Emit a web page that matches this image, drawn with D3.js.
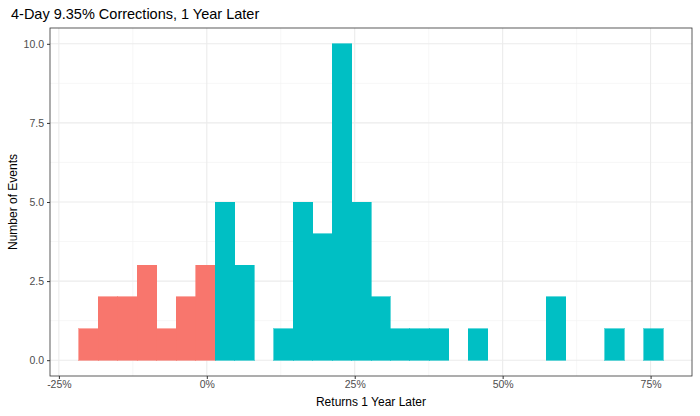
<!DOCTYPE html>
<html>
<head>
<meta charset="utf-8">
<script src="https://d3js.org/d3.v7.min.js"></script>
<style>
  body { margin: 0; background: #fff; }
  text { font-family: "Liberation Sans", Arial, sans-serif; }
</style>
</head>
<body>
<div id="chart"></div>
<script>
// histogram bins (left edge, % return) and counts
var binStarts = [-21.6, -18.31, -15.02, -11.73, -8.44, -5.15, -1.86, 1.43, 4.72, 8.01,
                 11.3, 14.59, 17.88, 21.17, 24.46, 27.75, 31.04, 34.33, 37.62, 40.91,
                 44.2, 47.49, 50.78, 54.07, 57.36, 60.65, 63.94, 67.23, 70.52, 73.81];
var binWidth = 3.29;
var counts = [1, 2, 2, 3, 1, 2, 3, 5, 3, 0,
              1, 5, 4, 10, 5, 2, 1, 1, 1, 0,
              1, 0, 0, 0, 2, 0, 0, 1, 0, 1];
var groups = ["neg", "neg", "neg", "neg", "neg", "neg", "neg", "pos", "pos", "pos",
              "pos", "pos", "pos", "pos", "pos", "pos", "pos", "pos", "pos", "pos",
              "pos", "pos", "pos", "pos", "pos", "pos", "pos", "pos", "pos", "pos"];
var xTicks = [-25, 0, 25, 50, 75];
var yTicks = [0, 2.5, 5, 7.5, 10];

var width = 700, height = 416;
var margin = {top: 28, right: 8, bottom: 40, left: 50};

var svg = d3.select("#chart")
  .append("svg")
  .attr("width", width)
  .attr("height", height);

var x = d3.scaleLinear()
  .domain([-26.5, 82])
  .range([margin.left, width - margin.right]);

var y = d3.scaleLinear()
  .domain([-0.5, 10.5])
  .range([height - margin.bottom, margin.top]);

var color = d3.scaleOrdinal()
  .domain(["neg", "pos"])
  .range(["#F8766D", "#00BFC4"]);

// minor grid
var xMinor = [-12.5, 12.5, 37.5, 62.5];
var yMinor = [1.25, 3.75, 6.25, 8.75];
svg.append("g").selectAll("line.xm")
  .data(xMinor).enter().append("line")
  .attr("x1", d => x(d)).attr("x2", d => x(d))
  .attr("y1", margin.top).attr("y2", height - margin.bottom)
  .attr("stroke", "#f2f2f2").attr("stroke-width", 0.6);
svg.append("g").selectAll("line.ym")
  .data(yMinor).enter().append("line")
  .attr("x1", margin.left).attr("x2", width - margin.right)
  .attr("y1", d => y(d)).attr("y2", d => y(d))
  .attr("stroke", "#f2f2f2").attr("stroke-width", 0.6);

// major grid
svg.append("g").selectAll("line.xg")
  .data(xTicks).enter().append("line")
  .attr("x1", d => x(d)).attr("x2", d => x(d))
  .attr("y1", margin.top).attr("y2", height - margin.bottom)
  .attr("stroke", "#ebebeb").attr("stroke-width", 1.1);
svg.append("g").selectAll("line.yg")
  .data(yTicks).enter().append("line")
  .attr("x1", margin.left).attr("x2", width - margin.right)
  .attr("y1", d => y(d)).attr("y2", d => y(d))
  .attr("stroke", "#ebebeb").attr("stroke-width", 1.1);

// bars (stroke in fill colour hides seams between neighbours)
svg.append("g")
  .attr("shape-rendering", "crispEdges")
  .selectAll("rect")
  .data(binStarts).enter().append("rect")
  .attr("x", d => x(d))
  .attr("width", d => x(d + binWidth) - x(d))
  .attr("y", (d, i) => y(counts[i]))
  .attr("height", (d, i) => y(0) - y(counts[i]))
  .attr("fill", (d, i) => color(groups[i]))
  .attr("stroke", (d, i) => counts[i] > 0 ? color(groups[i]) : "none")
  .attr("stroke-width", 0.6);

// panel border
svg.append("rect")
  .attr("x", margin.left).attr("y", margin.top)
  .attr("width", width - margin.left - margin.right)
  .attr("height", height - margin.top - margin.bottom)
  .attr("fill", "none")
  .attr("stroke", "#333333").attr("stroke-width", 0.8);

// axes
var xAxis = d3.axisBottom(x).tickValues(xTicks).tickSize(3).tickPadding(2)
  .tickFormat(d => d + "%");
var gx = svg.append("g")
  .attr("transform", "translate(0," + (height - margin.bottom) + ")")
  .call(xAxis);
var yAxis = d3.axisLeft(y).tickValues(yTicks).tickSize(3).tickPadding(3)
  .tickFormat(d3.format(".1f"));
var gy = svg.append("g")
  .attr("transform", "translate(" + margin.left + ",0)")
  .call(yAxis);

[gx, gy].forEach(function(g) {
  g.select(".domain").remove();
  g.selectAll(".tick line").attr("stroke", "#333333");
  g.selectAll(".tick text")
    .attr("fill", "#4d4d4d")
    .style("font-size", "10.5px");
});

// titles
svg.append("text")
  .attr("x", 11).attr("y", 19)
  .style("font-size", "14.5px")
  .attr("fill", "#000")
  .text("4-Day 9.35% Corrections, 1 Year Later");

svg.append("text")
  .attr("x", (margin.left + width - margin.right) / 2)
  .attr("y", 406)
  .attr("text-anchor", "middle")
  .style("font-size", "12px")
  .text("Returns 1 Year Later");

svg.append("text")
  .attr("transform", "translate(17," + ((margin.top + height - margin.bottom) / 2) + ") rotate(-90)")
  .attr("text-anchor", "middle")
  .style("font-size", "12px")
  .text("Number of Events");
</script>
</body>
</html>
